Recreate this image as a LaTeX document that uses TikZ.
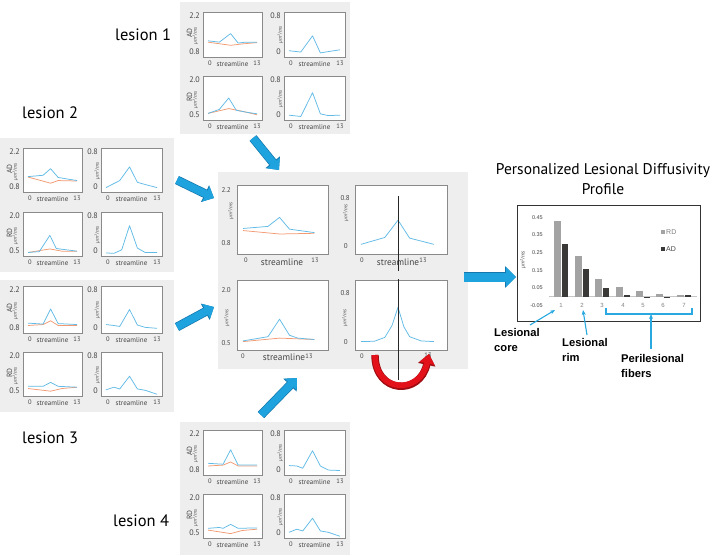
\documentclass[tikz,border=0pt]{standalone}
\usepackage{fontspec}
\setmainfont{PT Sans}
\newfontfamily\arialf{Liberation Sans}
\newfontfamily\osf{Open Sans}
\usetikzlibrary{arrows.meta}
\definecolor{panelgray}{HTML}{EEEEEE}
\definecolor{boxgray}{HTML}{8A8A8A}
\definecolor{lineblue}{HTML}{62BBE6}
\definecolor{lineorange}{HTML}{F29B73}
\definecolor{arrowblue}{HTML}{1FA3DE}
\definecolor{arrowedge}{HTML}{1477AD}
\definecolor{rdgray}{HTML}{A3A3A3}
\definecolor{addark}{HTML}{3B3838}
\definecolor{annblue}{HTML}{2AA9E0}
\definecolor{tickgray}{HTML}{444444}
\definecolor{arrred}{HTML}{E3121A}
\tikzset{
 panel/.style={fill=panelgray, draw=none},
 pbox/.style={fill=white, draw=boxgray, line width=0.6pt},
 bl/.style={lineblue, line width=0.75pt, line join=round},
 og/.style={lineorange, line width=0.75pt, line join=round},
 tk/.style={font=\fontsize{8}{8}\selectfont, text=tickgray, inner sep=0pt},
 tkc/.style={font=\fontsize{7}{7}\selectfont, text=tickgray, inner sep=0pt},
 xt/.style={font=\fontsize{6.5}{6.5}\selectfont, text=tickgray, inner sep=0pt},
 st/.style={font=\fontsize{7}{7}\selectfont, text=tickgray, inner sep=0pt},
 stc/.style={font=\fontsize{9.3}{9.3}\selectfont, text=tickgray, inner sep=0pt},
 ul/.style={rotate=90, font=\osf\itshape\fontsize{4.8}{5}\selectfont, text=tickgray, inner sep=0pt},
 ql/.style={rotate=90, font=\fontsize{7.5}{7.5}\selectfont, text=tickgray, inner sep=0pt},
 lesion/.style={font=\fontsize{16.5}{16.5}\selectfont, anchor=base west, inner sep=0pt},
 bigblue/.style={arrowblue, line width=9pt, -{Triangle[width=19pt,length=10pt]}},
 bigedge/.style={arrowedge, line width=10.4pt, -{Triangle[width=21pt,length=11pt]}},
 smblue/.style={arrowblue, line width=7.5pt, -{Triangle[width=16pt,length=9pt]}},
 smedge/.style={arrowedge, line width=8.9pt, -{Triangle[width=18pt,length=10pt]}},
 ann/.style={annblue, line width=1.1pt, -{Stealth[length=5pt,width=4pt]}},
 annl/.style={font=\arialf\bfseries\fontsize{11.2}{15}\selectfont, align=left, anchor=north west, inner sep=0pt},
 ytk/.style={font=\arialf\fontsize{5.5}{5.5}\selectfont, text=tickgray, anchor=east, inner sep=0pt},
 xtk/.style={font=\arialf\fontsize{6}{6}\selectfont, text=gray, inner sep=0pt},
 title/.style={font=\fontsize{15.5}{15.5}\selectfont, anchor=base, inner sep=0pt},
}
\newcommand\splot[7]{%
 \filldraw[pbox] (#2,#3) rectangle (#4,#5);
 \node[tk,anchor=east] (#1-t) at (#2-3,#3+4) {#6};
 \node[tk,anchor=east] (#1-b) at (#2-3,#5-5) {#7};
 \node[xt] (#1-z) at (#2+7,#5+6) {0};
 \node[xt] (#1-e) at (#4-5,#5+6) {13};
 \node[st] (#1-s) at ({(#2+#4)/2},#5+7.5) {streamline};}
\newcommand\curvesg[5]{%
 \pgfmathsetmacro\cux{(#2-#1)/13}%
 \begin{scope}[shift={(#1,#3)}, x={(\cux pt,0pt)}, y={(0pt,#4pt)}]
 #5
 \end{scope}}
\newcommand\ulab[3]{\node[ul] (#1) at (#2,#3) {µm²/ms};}
\newcommand\qlab[4]{\node[ql] (#1) at (#2,#3) {#4};}
\begin{document}
\begin{tikzpicture}[x=1pt,y=-1pt]
\useasboundingbox (0,0) rectangle (720,555);
% ---------------- panels
\fill[panel] (180,2) rectangle (350,134);
\fill[panel] (0,138) rectangle (174,272);
\fill[panel] (0,280) rectangle (174,412);
\fill[panel] (180,422) rectangle (350,555);
\fill[panel] (218,172) rectangle (468,369);
% ---------------- lesion 1
\splot{l1a}{203}{12}{262}{57}{2.2}{0.8}
\qlab{l1a-q}{189.5}{33}{AD}\ulab{l1a-u}{195.5}{36}
\curvesg{208}{257}{57}{45}{\draw[og] (0,.33)--(6,.26)--(9,.29)--(13,.32); \draw[bl] (0,.36)--(3,.33)--(6,.52)--(8,.31)--(10,.33)--(13,.33);}
\splot{l1b}{284}{12}{345}{57}{0.8}{0}
\ulab{l1b-u}{280.5}{35}
\curvesg{289}{340}{57}{45}{\draw[bl] (0,.14)--(3,.11)--(6,.47)--(8,.09)--(10,.12)--(13,.16);}
\splot{l1c}{203}{76}{262}{120}{2.0}{0.5}
\qlab{l1c-q}{189.5}{97}{RD}\ulab{l1c-u}{195.5}{100}
\curvesg{208}{257}{120}{44}{\draw[og] (0,.15)--(5.5,.26)--(9,.2)--(13,.12); \draw[bl] (0,.15)--(3,.24)--(5.5,.5)--(7.5,.22)--(10,.18)--(13,.14);}
\splot{l1d}{284}{76}{345}{120}{0.8}{0}
\ulab{l1d-u}{280.5}{99}
\curvesg{289}{340}{120}{44}{\draw[bl] (0,.11)--(3,.08)--(6,.62)--(8,.14)--(10,.1)--(13,.11);}
% ---------------- lesion 2
\splot{l2a}{23}{148}{82}{192}{2.2}{0.8}
\qlab{l2a-q}{9.5}{169}{AD}\ulab{l2a-u}{15.5}{172}
\curvesg{28}{77}{192}{44}{\draw[og] (0,.34)--(6,.2)--(8,.26)--(13,.25); \draw[bl] (0,.35)--(4,.38)--(6,.53)--(8,.33)--(13,.26);}
\splot{l2b}{101}{148}{162}{192}{0.8}{0}
\ulab{l2b-u}{97.5}{171}
\curvesg{106}{157}{192}{44}{\draw[bl] (0,.1)--(3.5,.26)--(6,.57)--(8,.22)--(10,.17)--(13,.1);}
\splot{l2c}{23}{212}{82}{256}{2.0}{0.5}
\qlab{l2c-q}{9.5}{233}{RD}\ulab{l2c-u}{15.5}{236}
\curvesg{28}{77}{256}{44}{\draw[og] (0,.08)--(5.8,.16)--(9,.11)--(13,.11); \draw[bl] (0,.08)--(3,.1)--(5.8,.47)--(7.5,.17)--(13,.11);}
\splot{l2d}{101}{212}{162}{256}{0.8}{0}
\ulab{l2d-u}{97.5}{235}
\curvesg{106}{157}{256}{44}{\draw[bl] (0,.07)--(2,.06)--(4,.14)--(6,.69)--(8,.18)--(10,.08)--(13,.08);}
% ---------------- lesion 3
\splot{l3a}{23}{286}{82}{333}{2.2}{0.8}
\qlab{l3a-q}{9.5}{308}{AD}\ulab{l3a-u}{15.5}{311}
\curvesg{28}{77}{333}{47}{\draw[og] (0,.16)--(4,.18)--(6,.26)--(8,.16)--(13,.16); \draw[bl] (0,.21)--(4,.19)--(6,.51)--(8,.2)--(13,.18);}
\splot{l3b}{101}{286}{162}{333}{0.8}{0}
\ulab{l3b-u}{97.5}{310}
\curvesg{106}{157}{333}{47}{\draw[bl] (0,.18)--(2,.16)--(3.5,.14)--(6,.5)--(8,.17)--(10,.12)--(13,.1);}
\splot{l3c}{23}{352}{82}{396}{2.0}{0.5}
\qlab{l3c-q}{9.5}{373}{RD}\ulab{l3c-u}{15.5}{376}
\curvesg{28}{77}{396}{44}{\draw[og] (0,.17)--(6,.11)--(9,.17)--(13,.2); \draw[bl] (0,.22)--(4,.22)--(6,.31)--(8,.22)--(13,.2);}
\splot{l3d}{101}{352}{162}{396}{0.8}{0}
\ulab{l3d-u}{97.5}{375}
\curvesg{106}{157}{396}{44}{\draw[bl] (0,.14)--(2,.2)--(3.5,.16)--(6,.45)--(8,.16)--(10,.13)--(13,.04);}
% ---------------- lesion 4
\splot{l4a}{203}{430}{262}{475}{2.2}{0.8}
\qlab{l4a-q}{189.5}{451}{AD}\ulab{l4a-u}{195.5}{454}
\curvesg{208}{257}{475}{45}{\draw[og] (0,.2)--(4,.22)--(6,.29)--(8,.2)--(13,.2); \draw[bl] (0,.26)--(4,.24)--(6,.56)--(8,.22)--(13,.22);}
\splot{l4b}{284}{430}{345}{475}{0.8}{0}
\ulab{l4b-u}{280.5}{453}
\curvesg{289}{340}{475}{45}{\draw[bl] (0,.21)--(2,.2)--(3.5,.15)--(6,.54)--(8,.2)--(10,.11)--(13,.1);}
\splot{l4c}{203}{494}{262}{538}{2.0}{0.5}
\qlab{l4c-q}{189.5}{515}{RD}\ulab{l4c-u}{195.5}{518}
\curvesg{208}{257}{538}{44}{\draw[og] (0,.18)--(6,.1)--(9,.17)--(13,.2); \draw[bl] (0,.22)--(3,.24)--(4,.22)--(6,.31)--(8,.22)--(13,.23);}
\splot{l4d}{284}{494}{345}{538}{0.8}{0}
\ulab{l4d-u}{280.5}{517}
\curvesg{289}{340}{538}{44}{\draw[bl] (0,.13)--(2,.2)--(3.5,.16)--(6,.45)--(8,.16)--(10,.13)--(13,.04);}
% ---------------- lesion labels
\node[lesion] (lab1) at (115,40) {lesion 1};
\node[lesion] (lab2) at (22,118) {lesion 2};
\node[lesion] (lab3) at (22,443) {lesion 3};
\node[lesion] (lab4) at (113,526) {lesion 4};
% ---------------- centre panel
\filldraw[pbox] (237,185) rectangle (328,254);
\filldraw[pbox] (355,185) rectangle (447,254);
\filldraw[pbox] (237,280) rectangle (328,350);
\filldraw[pbox] (355,280) rectangle (447,350);
\node[tkc,anchor=east] (ca-t) at (231,190) {2.2};
\node[tkc,anchor=east] (ca-b) at (231,243) {0.8};
\ulab{ca-u}{231}{211}
\node[xt] (ca-z) at (246,260) {0};
\node[stc] (ca-s) at (282,262) {streamline};
\node[xt] (ca-e) at (315,260) {13};
\node[tkc,anchor=east] (cb-t) at (350,198) {0.8};
\node[tkc,anchor=east] (cb-b) at (348,246) {0};
\ulab{cb-u}{346}{213}
\node[xt] (cb-z) at (362,260) {0};
\node[stc] (cb-s) at (398,262) {streamline};
\node[xt] (cb-e) at (423,260) {13};
\node[tkc,anchor=east] (cc-t) at (231,290) {2.0};
\node[tkc,anchor=east] (cc-b) at (231,343) {0.5};
\ulab{cc-u}{227}{318}
\node[xt] (cc-z) at (243,356) {0};
\node[stc] (cc-s) at (284,357) {streamline};
\node[xt] (cc-e) at (309,356) {13};
\node[tkc,anchor=east] (cd-t) at (350,293) {0.8};
\node[tkc,anchor=east] (cd-b) at (348,342) {0};
\ulab{cd-u}{345}{318}
\node[xt] (cd-z) at (362,356) {0};
\node[xt] (cd-e) at (428,355) {13};
\curvesg{243}{315}{254}{69}{\draw[og] (0,.34)--(6.6,.29)--(12.9,.30); \draw[bl] (0,.37)--(4.5,.40)--(6.6,.53)--(8.4,.36)--(12.9,.31);}
\curvesg{361}{423}{254}{69}{\draw[bl] (0,.14)--(5,.24)--(7.76,.49)--(10.2,.23)--(15.3,.14);}
\curvesg{243}{315}{350}{70}{\draw[og] (0,.12)--(6.6,.17)--(12.9,.15); \draw[bl] (0,.13)--(4.5,.19)--(6.6,.44)--(8.4,.21)--(9.9,.17)--(12.9,.15);}
\curvesg{361}{423}{350}{70}{\draw[bl] (0,.12)--(2.8,.125)--(5,.18)--(6.5,.35)--(7.76,.61)--(9,.33)--(10.2,.19)--(12.6,.13)--(15.3,.12);}
% red arrow and vertical line
\coordinate (r1) at (375,355);
\coordinate (r2) at (429,354);
\draw[arrred!70!black, line width=7.4pt, -{Triangle[width=17pt,length=11pt]}] (r1) .. controls (375,394) and (420,396) .. (r2);
\draw[arrred, line width=5.6pt, -{Triangle[width=14.5pt,length=9.5pt]}] (r1) .. controls (375,393) and (420,395) .. (r2);
\coordinate (v1) at (398,196);
\coordinate (v2) at (398,271);
\coordinate (v3) at (398,279);
\coordinate (v4) at (398,380);
\draw[black!85, line width=0.7pt] (v1) -- (v2) (v3) -- (v4);
% ---------------- blue arrows
\coordinate (a1s) at (253,138); \coordinate (a1e) at (279,170);
\coordinate (a2s) at (177,180); \coordinate (a2e) at (214,198);
\coordinate (a3s) at (177,327); \coordinate (a3e) at (214,307);
\coordinate (a4s) at (261,415); \coordinate (a4e) at (297,378);
\coordinate (a5s) at (464,277); \coordinate (a5e) at (516,277);
\foreach \s/\e in {a1s/a1e,a2s/a2e,a3s/a3e,a4s/a4e}{
 \draw[smedge] (\s) -- (\e);
 \draw[smblue] (\s) -- (\e);}
\draw[bigedge] (a5s) -- (a5e);
\draw[bigblue] (a5s) -- (a5e);
% ---------------- bar chart
\node[title] (tt1) at (603,174) {Personalized Lesional Diffusivity};
\node[title] (tt2) at (603,194) {Profile};
\draw[black!80, line width=0.8pt] (517,205) rectangle (700,321);
\draw[gray!45, line width=0.5pt] (549,296.5) -- (697,296.5);
\foreach \c/\r/\a in {561/.43/.30, 582/.23/.157, 602/.10/.048, 623/.055/.01, 643/.033/-.006, 663/.017/-.005, 684/.01/.01}{
 \fill[rdgray] (\c-7,296.5) rectangle (\c,{296.5-\r*176});
 \fill[addark] (\c+1,296.5) rectangle (\c+7,{296.5-\a*176});}
\foreach \v [count=\i] in {0.45,0.35,0.25,0.15,0.05,-0.05}{
 \node[ytk] (yt\i) at (543,{296.5-\v*176}) {\v};}
\foreach \k/\c in {1/561,2/582,3/602,4/623,5/643,6/663,7/684}{
 \node[xtk] (xk\k) at (\c,305) {\k};}
\node[ul, font=\osf\itshape\fontsize{5.2}{5.5}\selectfont] (bu) at (523,260) {µm²/ms};
\fill[rdgray] (661,230) rectangle (665,234);
\node[font=\arialf\fontsize{7}{7}\selectfont, text=gray, anchor=west, inner sep=0pt] (lgrd) at (666,232) {RD};
\fill[addark] (661,247) rectangle (665,251);
\node[font=\arialf\fontsize{7}{7}\selectfont, text=tickgray, anchor=west, inner sep=0pt] (lgad) at (666,249) {AD};
% annotations
\node[annl] (core) at (494,328) {Lesional\\core};
\node[annl] (rim) at (562,338) {Lesional\\rim};
\node[annl] (peri) at (621,354) {Perilesional\\fibers};
\coordinate (c1) at (530,325); \coordinate (c2) at (555,310);
\draw[ann] (c1) -- (c2);
\coordinate (rm1) at (587,335); \coordinate (rm2) at (583,310);
\draw[ann] (rm1) -- (rm2);
\coordinate (b1) at (606,308); \coordinate (b2) at (692,308);
\draw[annblue, line width=1.1pt] (b1) |- (651,314) -| (b2);
\coordinate (p1) at (651,349); \coordinate (p2) at (651,314);
\draw[ann] (p1) -- (p2);
\end{tikzpicture}
\end{document}
